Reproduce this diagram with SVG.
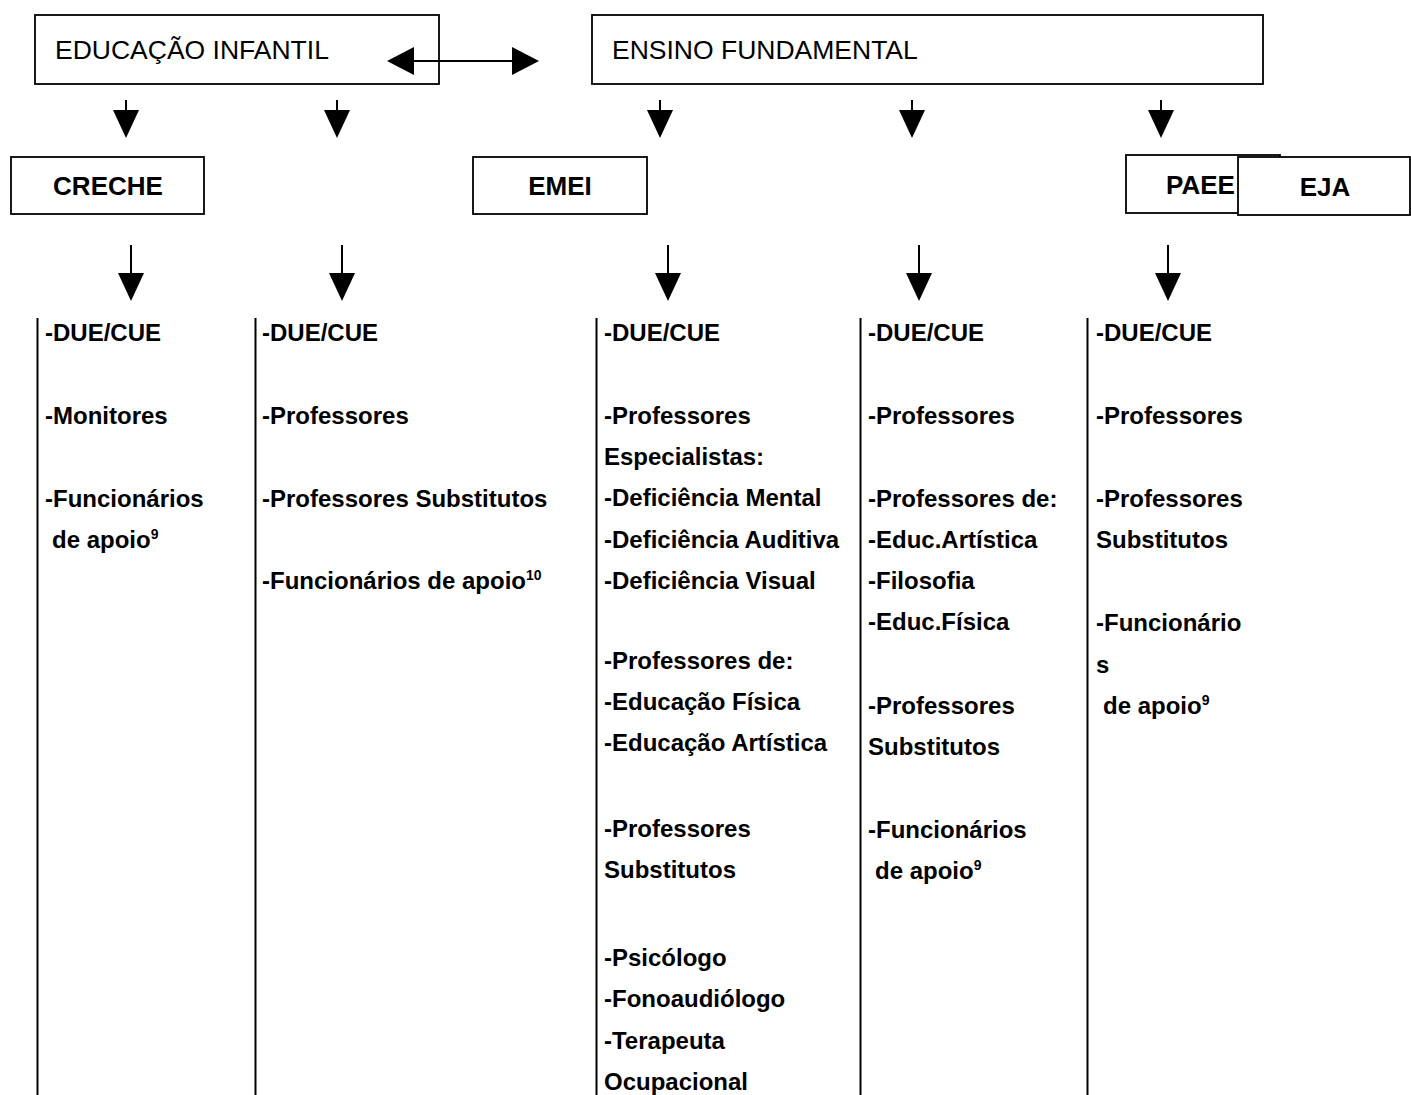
<svg xmlns="http://www.w3.org/2000/svg" width="1411" height="1095" viewBox="0 0 1411 1095">
<style>
.box{fill:#fff;stroke:#000;stroke-width:1.8}
.top{font-family:"Liberation Sans",Arial,sans-serif;font-size:26.5px;fill:#000}
.lbl{font-family:"Liberation Sans",Arial,sans-serif;font-size:26px;font-weight:bold;fill:#000}
.col{font-family:"Liberation Sans",Arial,sans-serif;font-size:24px;font-weight:bold;fill:#000}
.sup{font-size:14px}
.stem{stroke:#000;stroke-width:2}
.vline{stroke:#000;stroke-width:2}
</style>
<defs>
<path id="head" d="M-13,0 L13,0 L0,28 Z" fill="#000"/>
</defs>
<rect width="1411" height="1095" fill="#fff"/>
<g id="educacao-infantil">
<rect class="box" x="35" y="15" width="404" height="69"/>
<text class="top" x="55" y="59">EDUCAÇÃO INFANTIL</text>
</g>
<g id="ensino-fundamental">
<rect class="box" x="592" y="15" width="671" height="69"/>
<text class="top" x="612" y="59">ENSINO FUNDAMENTAL</text>
</g>
<g id="creche">
<rect class="box" x="11" y="157" width="193" height="57"/>
<text class="lbl" x="108" y="195" text-anchor="middle">CRECHE</text>
</g>
<g id="emei">
<rect class="box" x="473" y="157" width="174" height="57"/>
<text class="lbl" x="560" y="195" text-anchor="middle">EMEI</text>
</g>
<g id="paee">
<rect class="box" x="1126" y="155" width="154" height="58"/>
<text class="lbl" x="1166" y="194">PAEE</text>
</g>
<g id="eja">
<rect class="box" x="1238" y="157" width="172" height="58" stroke-width="2.2"/>
<text class="lbl" x="1325" y="196" text-anchor="middle">EJA</text>
</g>
<g id="connectors">
<line class="stem" x1="410" y1="61" x2="515" y2="61" stroke-width="3"/>
<path d="M387,61 L414,47 L414,75 Z" fill="#000"/>
<path d="M539,61 L512,47 L512,75 Z" fill="#000"/>
<line class="stem" x1="126" y1="100" x2="126" y2="112"/><use href="#head" x="126" y="110"/>
<line class="stem" x1="337" y1="100" x2="337" y2="112"/><use href="#head" x="337" y="110"/>
<line class="stem" x1="660" y1="100" x2="660" y2="112"/><use href="#head" x="660" y="110"/>
<line class="stem" x1="912" y1="100" x2="912" y2="112"/><use href="#head" x="912" y="110"/>
<line class="stem" x1="1161" y1="100" x2="1161" y2="112"/><use href="#head" x="1161" y="110"/>
<line class="stem" x1="131" y1="245" x2="131" y2="275"/><use href="#head" x="131" y="273"/>
<line class="stem" x1="342" y1="245" x2="342" y2="275"/><use href="#head" x="342" y="273"/>
<line class="stem" x1="668" y1="245" x2="668" y2="275"/><use href="#head" x="668" y="273"/>
<line class="stem" x1="919" y1="245" x2="919" y2="275"/><use href="#head" x="919" y="273"/>
<line class="stem" x1="1168" y1="245" x2="1168" y2="275"/><use href="#head" x="1168" y="273"/>
</g>
<g id="col-creche">
<line class="vline" x1="37.5" y1="318" x2="37.5" y2="1095"/>
<text class="col" x="45" y="341">-DUE/CUE</text>
<text class="col" x="45" y="424">-Monitores</text>
<text class="col" x="45" y="507">-Funcionários</text>
<text class="col" x="52" y="548">de apoio<tspan class="sup" dy="-9">9</tspan></text>
</g>
<g id="col-emei-ed">
<line class="vline" x1="255.5" y1="318" x2="255.5" y2="1095"/>
<text class="col" x="262" y="341">-DUE/CUE</text>
<text class="col" x="262" y="424">-Professores</text>
<text class="col" x="262" y="507">-Professores Substitutos</text>
<text class="col" x="262" y="589">-Funcionários de apoio<tspan class="sup" dy="-9">10</tspan></text>
</g>
<g id="col-paee">
<line class="vline" x1="596.5" y1="318" x2="596.5" y2="1095"/>
<text class="col" x="604" y="341">-DUE/CUE</text>
<text class="col" x="604" y="424">-Professores</text>
<text class="col" x="604" y="465">Especialistas:</text>
<text class="col" x="604" y="506">-Deficiência Mental</text>
<text class="col" x="604" y="548">-Deficiência Auditiva</text>
<text class="col" x="604" y="589">-Deficiência Visual</text>
<text class="col" x="604" y="669">-Professores de:</text>
<text class="col" x="604" y="710">-Educação Física</text>
<text class="col" x="604" y="751">-Educação Artística</text>
<text class="col" x="604" y="837">-Professores</text>
<text class="col" x="604" y="878">Substitutos</text>
<text class="col" x="604" y="966">-Psicólogo</text>
<text class="col" x="604" y="1007">-Fonoaudiólogo</text>
<text class="col" x="604" y="1049">-Terapeuta</text>
<text class="col" x="604" y="1090">Ocupacional</text>
</g>
<g id="col-ef">
<line class="vline" x1="860.5" y1="318" x2="860.5" y2="1095"/>
<text class="col" x="868" y="341">-DUE/CUE</text>
<text class="col" x="868" y="424">-Professores</text>
<text class="col" x="868" y="507">-Professores de:</text>
<text class="col" x="868" y="548">-Educ.Artística</text>
<text class="col" x="868" y="589">-Filosofia</text>
<text class="col" x="868" y="630">-Educ.Física</text>
<text class="col" x="868" y="714">-Professores</text>
<text class="col" x="868" y="755">Substitutos</text>
<text class="col" x="868" y="838">-Funcionários</text>
<text class="col" x="875" y="879">de apoio<tspan class="sup" dy="-9">9</tspan></text>
</g>
<g id="col-eja">
<line class="vline" x1="1087.5" y1="318" x2="1087.5" y2="1095"/>
<text class="col" x="1096" y="341">-DUE/CUE</text>
<text class="col" x="1096" y="424">-Professores</text>
<text class="col" x="1096" y="507">-Professores</text>
<text class="col" x="1096" y="548">Substitutos</text>
<text class="col" x="1096" y="631">-Funcionário</text>
<text class="col" x="1096" y="673">s</text>
<text class="col" x="1103" y="714">de apoio<tspan class="sup" dy="-9">9</tspan></text>
</g>
</svg>
